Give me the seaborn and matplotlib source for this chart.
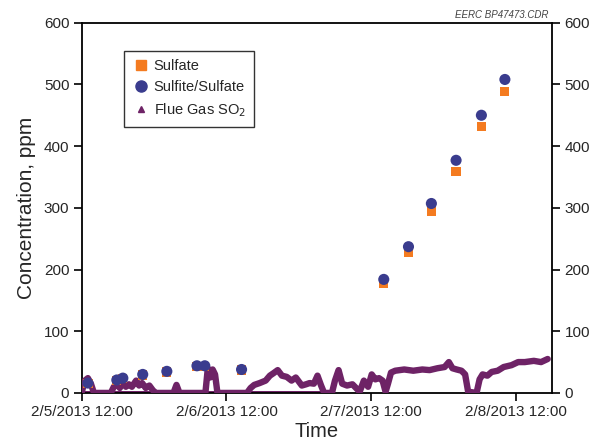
import matplotlib
matplotlib.use("Agg")
import matplotlib.pyplot as plt
from matplotlib.lines import Line2D
import seaborn as sns
import pandas as pd

# ---------------- data ----------------
start = pd.Timestamp("2013-02-05 12:00")

# sample times (hours after 2/5/2013 12:00)
sample_hours = [1.0, 5.8, 6.8, 10.1, 14.1, 19.1, 20.4, 26.5,
                50.1, 54.2, 58.0, 62.1, 66.3, 70.2]
sulfate = [15, 20, 23, 29, 34, 43, 43, 37,
           177, 228, 295, 359, 432, 489]
sulfite_sulfate = [16, 21, 24, 30, 35, 44, 44, 38,
                   184, 237, 307, 377, 450, 508]

so2_hours = [0, 0.5, 1.0, 1.5, 2.0, 4.8, 5.3, 5.8, 6.3, 6.8, 7.3, 7.8, 8.3, 9.0,
             9.5, 10.0, 10.6, 11.2, 11.8, 12.3, 15.2, 15.7, 16.2, 20.5, 20.9,
             21.3, 21.7, 22.1, 22.5, 27.4, 28.0, 28.6, 29.5, 30.5, 31.2, 31.8,
             32.5, 33.2, 34.0, 34.8, 35.5, 36.5, 37.2, 37.8, 38.5, 39.1, 39.7,
             40.2, 41.5, 42.0, 42.6, 43.2, 44.0, 44.9, 45.5, 46.1, 46.8, 47.5,
             48.1, 48.7, 49.3, 49.9, 50.4, 50.8, 51.3, 52.0, 53.5, 55.0, 56.5,
             57.7, 59.0, 60.2, 60.9, 61.5, 62.2, 63.0, 63.6, 64.1, 65.5, 66.0,
             66.5, 67.3, 68.0, 69.0, 70.0, 71.3, 72.4, 73.5, 75.0, 76.2, 77.3]
so2_ppm = [2, 20, 24, 15, 0, 0, 10, 14, 8, 20, 10, 14, 10, 20,
           12, 16, 8, 12, 4, 0, 0, 13, 0, 0, 40,
           25, 38, 30, 0, 0, 8, 13, 16, 20, 28, 32,
           37, 28, 26, 20, 25, 12, 14, 16, 15, 28, 12,
           0, 0, 20, 37, 15, 12, 14, 8, 2, 20, 10,
           30, 22, 24, 20, 2, 15, 33, 36, 38, 36, 38,
           37, 40, 42, 50, 40, 38, 36, 30, 2, 0, 22,
           30, 28, 34, 36, 42, 45, 50, 50, 52, 50, 55]
# interval (hours) where alternate zero readings are also recorded
so2_zero_span_h = [0, 40]

y_ticks = [0, 100, 200, 300, 400, 500, 600]
x_tick_times = ["2013-02-05 12:00", "2013-02-06 12:00",
                "2013-02-07 12:00", "2013-02-08 12:00"]
x_tick_labels = ["2/5/2013 12:00", "2/6/2013 12:00", "2/7/2013 12:00", "2/8/2013 12:00"]

# ---------------- frames ----------------
samples = pd.DataFrame({
    "time": start + pd.to_timedelta(sample_hours, unit="h"),
    "sulfate": sulfate,
    "sulfite": sulfite_sulfate,
})
so2 = pd.DataFrame({"time": start + pd.to_timedelta(so2_hours, unit="h"),
                    "ppm": so2_ppm})
zero = pd.DataFrame({"time": start + pd.to_timedelta(so2_zero_span_h, unit="h"),
                     "ppm": [0, 0]})

c_orange = "#F47B20"
c_navy = "#3A3C8E"
c_purple = "#6E2366"
c_text = "#262626"

sns.set_theme(style="ticks")
plt.rcParams["font.family"] = ["Liberation Sans", "DejaVu Sans"]

fig = plt.figure(figsize=(5.89, 4.45), dpi=100)
ax = fig.add_axes([0.139, 0.117, 0.798, 0.832])

sns.lineplot(data=zero, x="time", y="ppm", ax=ax, color=c_purple, lw=3.6,
             solid_capstyle="butt", zorder=2)
sns.lineplot(data=so2, x="time", y="ppm", ax=ax, color=c_purple, lw=4.6,
             solid_joinstyle="round", solid_capstyle="round", zorder=3)
sns.scatterplot(data=samples, x="time", y="sulfate", ax=ax, marker="s",
                color=c_orange, s=44, edgecolor="none", zorder=4)
sns.scatterplot(data=samples, x="time", y="sulfite", ax=ax, marker="o",
                color=c_navy, s=64, edgecolor="none", zorder=5)

ax.set_ylim(0, 600)
ax.set_yticks(y_ticks)
ax.set_xlim(start, start + pd.Timedelta(hours=78))
ax.set_xticks([pd.Timestamp(t) for t in x_tick_times])
ax.set_xticklabels(x_tick_labels)

for s in ax.spines.values():
    s.set_color("black")
    s.set_linewidth(1.3)
ax.tick_params(axis="both", direction="out", length=6, width=1.2,
               labelsize=11, colors=c_text, pad=3)
ax.tick_params(axis="both", color="black")
ax.tick_params(axis="y", right=True, labelright=True)
ax.tick_params(axis="x", top=False)

ax.set_xlabel("Time", fontsize=14.5, labelpad=2, color=c_text)
ax.set_ylabel("Concentration, ppm", fontsize=15, labelpad=6, color=c_text)

handles = [
    Line2D([], [], marker="s", ls="none", color=c_orange, markersize=6.5),
    Line2D([], [], marker="o", ls="none", color=c_navy, markersize=8),
    Line2D([], [], marker="^", ls="none", color=c_purple, markersize=4),
]
leg = ax.legend(handles, ["Sulfate", "Sulfite/Sulfate", "Flue Gas SO$_2$"],
                loc="upper left", bbox_to_anchor=(0.074, 0.944), fontsize=10.5,
                frameon=True, fancybox=False, handletextpad=0.3,
                handlelength=1.2, borderpad=0.55, labelspacing=0.5)
leg.get_frame().set_edgecolor("black")
leg.get_frame().set_linewidth(1.0)

fig.text(0.851, 0.966, "EERC BP47473.CDR", fontsize=7, style="italic",
         color="#444444", ha="center", va="center")

fig.savefig("out.png", dpi=100)
